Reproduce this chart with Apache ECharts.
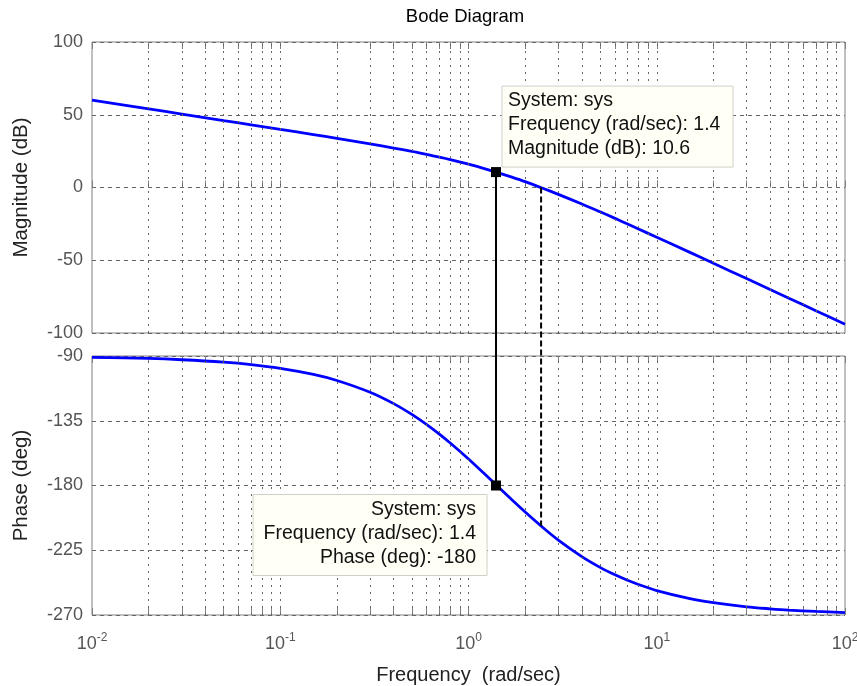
<!DOCTYPE html>
<html>
<head>
<meta charset="utf-8">
<script src="https://cdn.jsdelivr.net/npm/echarts@6/dist/echarts.min.js"></script>
<style>
  html, body { margin: 0; padding: 0; background: #fff; }
  #main { width: 857px; height: 686px; }
</style>
</head>
<body>
<div id="main"></div>
<script>
// 频率 (rad/sec) 和读取的幅值/相位
var freq = [0.01, 0.02, 0.03, 0.05, 0.07, 0.1, 0.15, 0.2, 0.3, 0.4, 0.5, 0.6, 0.7, 0.8, 1, 1.2, 1.4, 1.7,
  2, 2.5, 3, 4, 5, 6, 7, 8, 10, 15, 20, 30, 40, 50, 70, 100];
var magDb = [60.0, 54.0, 50.5, 46.0, 43.1, 40.0, 36.4, 33.8, 30.0, 27.1, 24.8, 22.7, 20.9, 19.2, 16.0, 13.2, 10.6, 7.1,
  4.0, -0.7, -4.7, -11.3, -16.7, -21.2, -25.1, -28.5, -34.2, -44.6, -52.1, -62.6, -70.1, -75.9, -84.7, -94.0];
var phaseDeg = [-90.9, -91.7, -92.6, -94.3, -96.0, -98.6, -102.8, -107.0, -115.2, -123.1, -130.6, -137.7, -144.3, -150.5, -161.6, -171.2, -179.5, -189.9,
  -198.4, -209.5, -217.9, -229.4, -236.9, -242.1, -245.9, -248.8, -253.0, -258.6, -261.4, -264.3, -265.7, -266.6, -267.5, -268.3];

// 网格线位置 (每个十倍频的 2..9 以及整十倍)
var gridFreqs = [0.02, 0.03, 0.04, 0.05, 0.06, 0.07, 0.08, 0.09, 0.1,
  0.2, 0.3, 0.4, 0.5, 0.6, 0.7, 0.8, 0.9, 1,
  2, 3, 4, 5, 6, 7, 8, 9, 10,
  20, 30, 40, 50, 60, 70, 80, 90];
var decadeTicks = [0.01, 0.1, 1, 10, 100];

// 数据光标
var cursorFreq = 1.4;
var cursorMag = 10.6;
var cursorPhase = -180;
var crossFreq = 2.43;
var crossPhase = -208;

var font = "'Liberation Sans', Arial, sans-serif";
var tickColor = "#555";
var frameColor = "#808080";

function pairs(xs, ys) {
  return xs.map(function (x, i) { return [x, ys[i]]; });
}

var gridMark = {
  silent: true,
  symbol: ["none", "none"],
  label: { show: false },
  lineStyle: { color: "#666", width: 1, type: [2, 5] },
  animation: false,
  data: gridFreqs.map(function (f) { return { xAxis: f }; }),
};

// 只画刻度的对数轴 (上下边框)
function tickAxis(gridIndex, position) {
  return {
    type: "log", gridIndex: gridIndex, position: position,
    min: 0.01, max: 100, logBase: 10,
    axisLine: { show: false },
    axisTick: {
      inside: true, length: 7,
      customValues: decadeTicks.concat(gridFreqs),
      lineStyle: { color: frameColor },
    },
    axisLabel: { show: false },
    splitLine: { show: false },
  };
}

var myChart = echarts.init(document.getElementById("main"));
myChart.setOption({
  animation: false,
  title: {
    text: "Bode Diagram",
    left: 460,
    top: 2,
    textAlign: "center",
    textStyle: { fontFamily: font, fontSize: 18.5, fontWeight: "normal", color: "#000" },
  },
  grid: [
    { left: 92, right: 12, top: 42, height: 291, outerBoundsMode: "none", containLabel: false,
      show: true, borderColor: frameColor, borderWidth: 1 },
    { left: 92, right: 12, top: 356, height: 259, outerBoundsMode: "none", containLabel: false,
      show: true, borderColor: frameColor, borderWidth: 1 },
  ],
  xAxis: [
    tickAxis(0, "bottom"),
    {
      type: "log", gridIndex: 1, min: 0.01, max: 100, logBase: 10,
      name: "Frequency  (rad/sec)",
      nameLocation: "middle",
      nameGap: 50,
      nameTextStyle: { fontFamily: font, fontSize: 20, color: "#222" },
      axisLine: { show: false },
      axisTick: {
        inside: true, length: 7,
        customValues: decadeTicks.concat(gridFreqs),
        lineStyle: { color: frameColor },
      },
      axisLabel: {
        margin: 17,
        customValues: decadeTicks,
        formatter: function (v) {
          var e = Math.round(Math.log10(v));
          return "{b|10}{s|" + e + "}";
        },
        rich: {
          b: { fontFamily: font, fontSize: 18, color: tickColor },
          s: { fontFamily: font, fontSize: 12, color: tickColor, verticalAlign: "top", padding: [0, 0, 12, 0] },
        },
      },
      splitLine: { show: false },
    },
    tickAxis(0, "top"),
    tickAxis(1, "top"),
  ],
  yAxis: [
    {
      type: "value", gridIndex: 0, min: -100, max: 100, interval: 50,
      name: "Magnitude (dB)",
      nameLocation: "middle",
      nameGap: 60,
      nameTextStyle: { fontFamily: font, fontSize: 20.5, color: "#222" },
      axisLine: { show: false },
      axisTick: { show: false },
      axisLabel: { fontFamily: font, fontSize: 18, color: tickColor, margin: 9 },
      splitLine: { lineStyle: { color: "#666", type: [4, 4] } },
    },
    {
      type: "value", gridIndex: 1, min: -270, max: -90, interval: 45,
      name: "Phase (deg)",
      nameLocation: "middle",
      nameGap: 60,
      nameTextStyle: { fontFamily: font, fontSize: 20.5, color: "#222" },
      axisLine: { show: false },
      axisTick: { show: false },
      axisLabel: { fontFamily: font, fontSize: 18, color: tickColor, margin: 9 },
      splitLine: { lineStyle: { color: "#666", type: [4, 4] } },
    },
  ],
  series: [
    {
      type: "line", xAxisIndex: 0, yAxisIndex: 0,
      data: pairs(freq, magDb),
      smooth: 0.3, showSymbol: false,
      lineStyle: { color: "#0000ff", width: 2.8 },
      markLine: gridMark,
      z: 3,
    },
    {
      type: "line", xAxisIndex: 1, yAxisIndex: 1,
      data: pairs(freq, phaseDeg),
      smooth: 0.3, showSymbol: false,
      lineStyle: { color: "#0000ff", width: 2.8 },
      markLine: gridMark,
      z: 3,
    },
  ],
});

// 数据光标: 用坐标转换得到像素位置
var pTop = myChart.convertToPixel({ gridIndex: 0 }, [cursorFreq, cursorMag]);
var pBot = myChart.convertToPixel({ gridIndex: 1 }, [cursorFreq, cursorPhase]);
var cTop = myChart.convertToPixel({ gridIndex: 0 }, [crossFreq, 0]);
var cBot = myChart.convertToPixel({ gridIndex: 1 }, [crossFreq, crossPhase]);

var tipFont = "19.5px " + font;
myChart.setOption({
  graphic: [
    {
      type: "line", z: 10,
      shape: { x1: cTop[0], y1: cTop[1], x2: cBot[0], y2: cBot[1] },
      style: { stroke: "#000", lineWidth: 2, lineDash: [6, 3] },
    },
    {
      type: "line", z: 10,
      shape: { x1: pTop[0], y1: pTop[1], x2: pBot[0], y2: pBot[1] },
      style: { stroke: "#000", lineWidth: 2 },
    },
    {
      type: "rect", z: 11,
      shape: { x: pTop[0] - 5, y: pTop[1] - 5, width: 10, height: 10 },
      style: { fill: "#000" },
    },
    {
      type: "rect", z: 11,
      shape: { x: pBot[0] - 5, y: pBot[1] - 5, width: 10, height: 10 },
      style: { fill: "#000" },
    },
    {
      type: "rect", z: 12,
      shape: { x: pTop[0] + 6, y: pTop[1] - 86, width: 231, height: 81 },
      style: { fill: "#fffff6", stroke: "#d0d0c8", lineWidth: 1 },
    },
    {
      type: "text", z: 13,
      x: pTop[0] + 12, y: pTop[1] - 83,
      style: {
        text: "System: sys\nFrequency (rad/sec): " + cursorFreq + "\nMagnitude (dB): " + cursorMag,
        font: tipFont, fill: "#111", lineHeight: 24, textAlign: "left",
      },
    },
    {
      type: "rect", z: 12,
      shape: { x: pBot[0] - 243, y: pBot[1] + 9, width: 234, height: 81 },
      style: { fill: "#fffff6", stroke: "#d0d0c8", lineWidth: 1 },
    },
    {
      type: "text", z: 13,
      x: pBot[0] - 20, y: pBot[1] + 12,
      style: {
        text: "System: sys\nFrequency (rad/sec): " + cursorFreq + "\nPhase (deg): " + cursorPhase,
        font: tipFont, fill: "#111", lineHeight: 24, textAlign: "right",
      },
    },
  ],
});
</script>
</body>
</html>
